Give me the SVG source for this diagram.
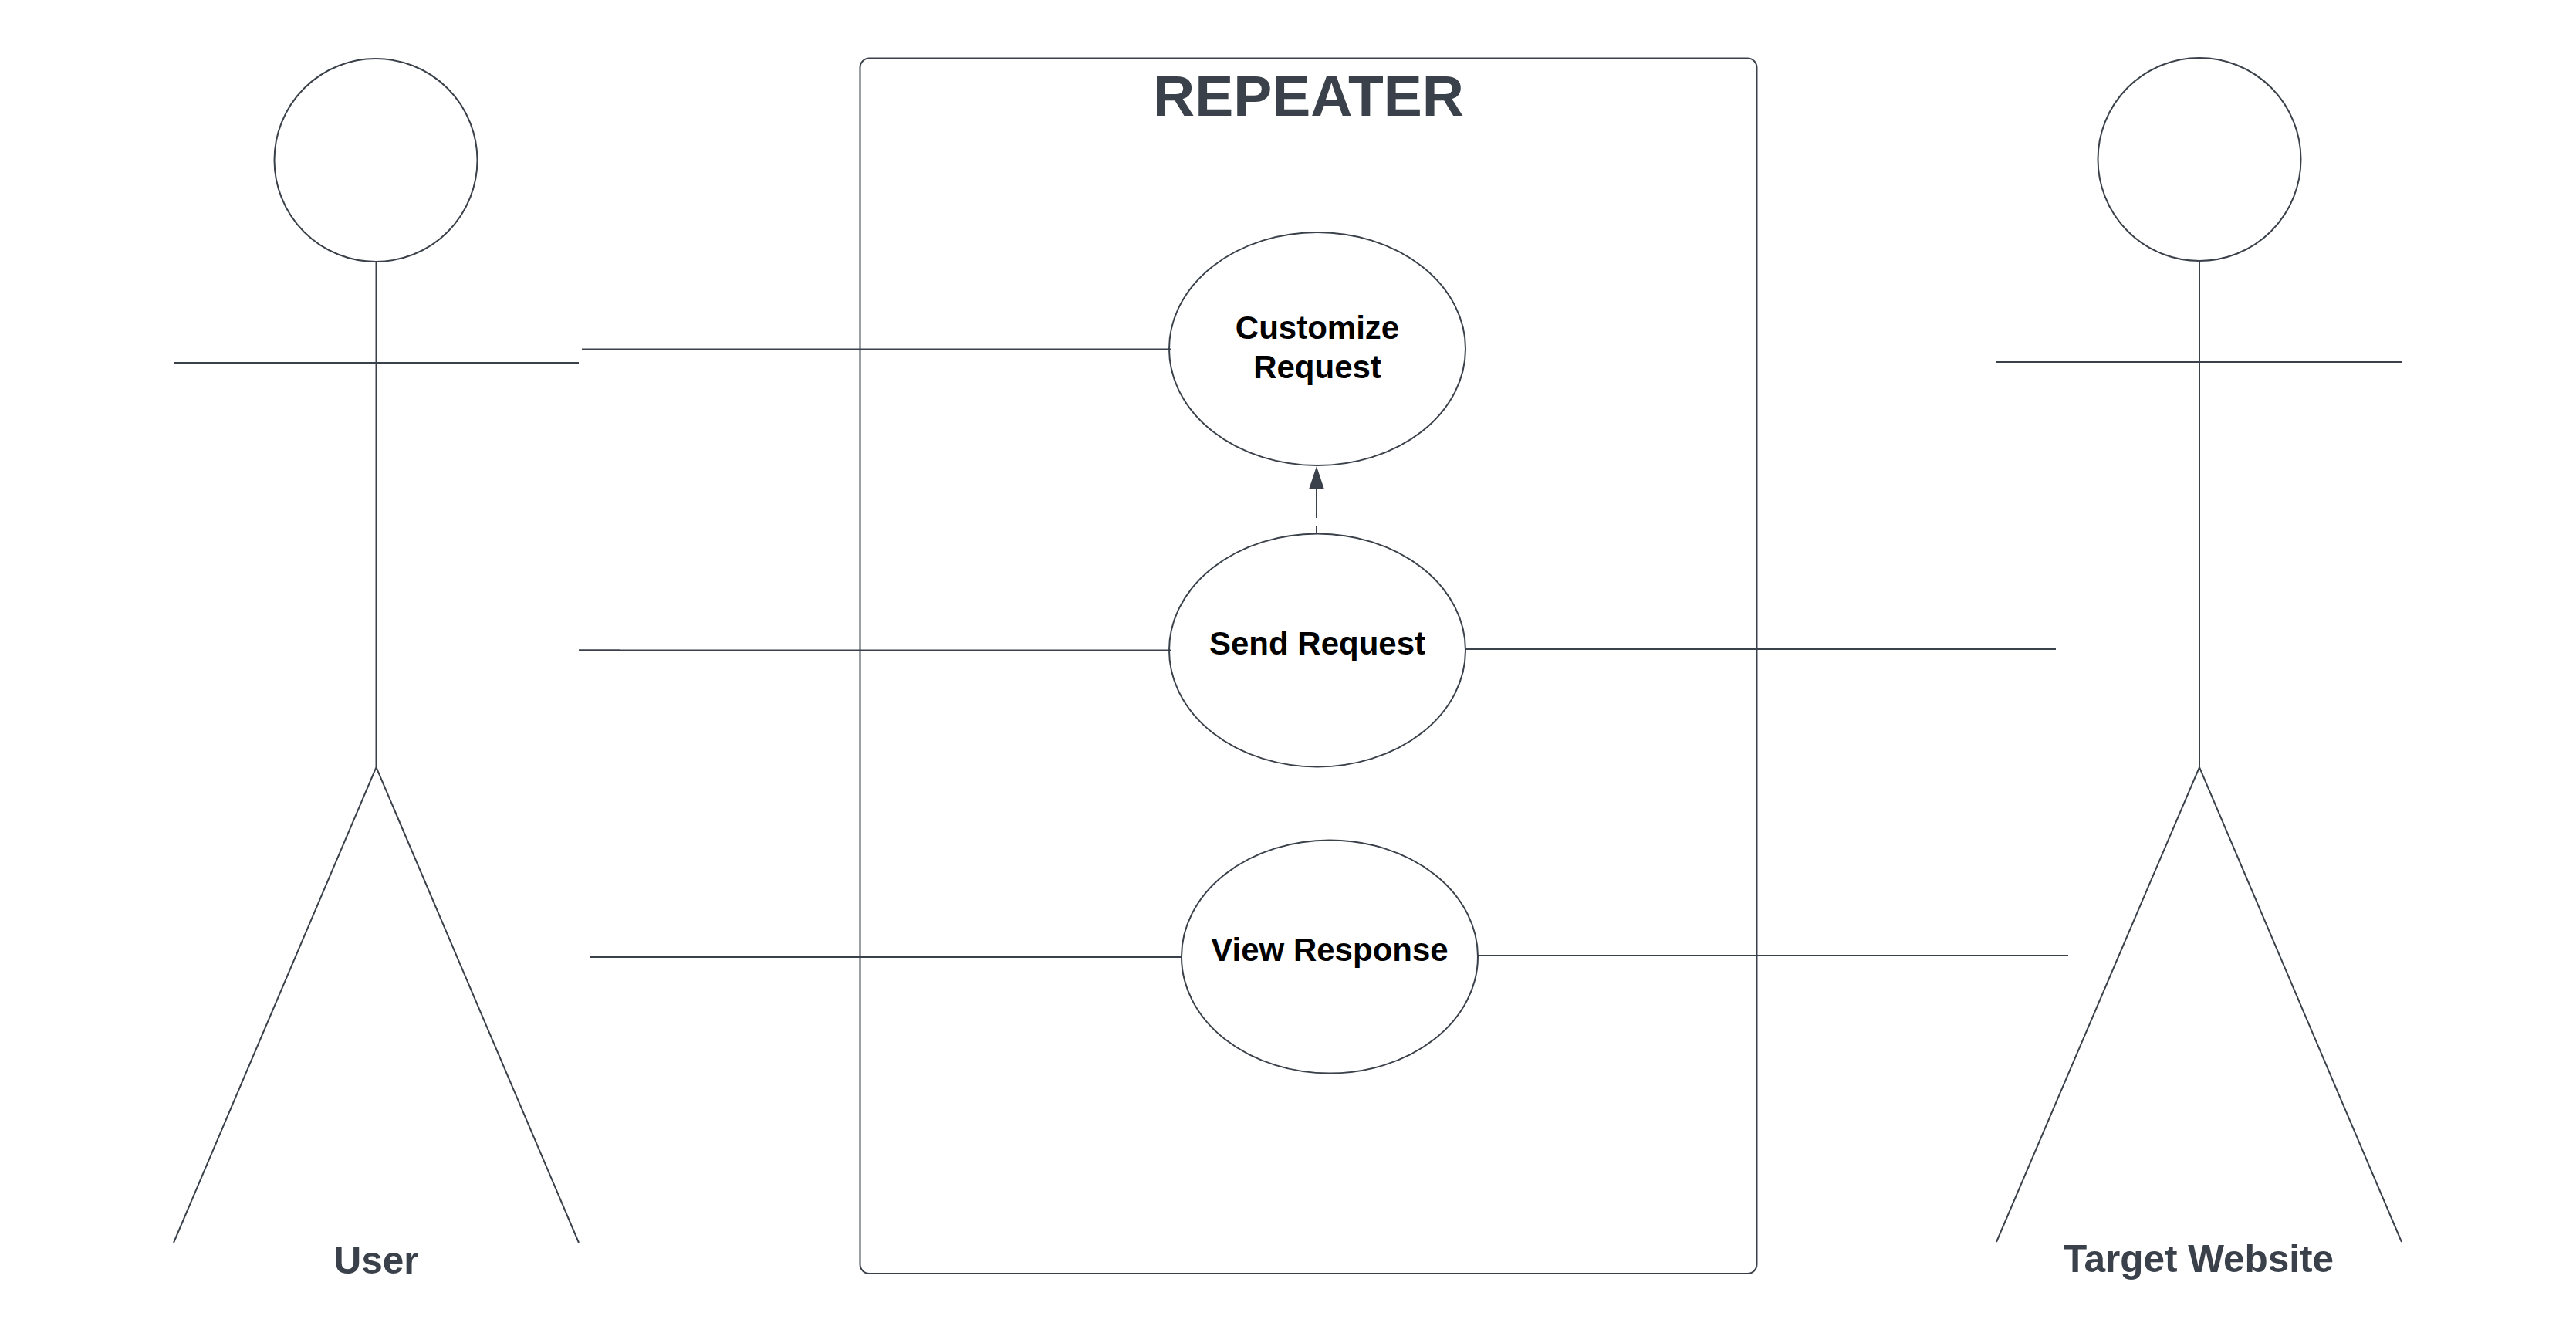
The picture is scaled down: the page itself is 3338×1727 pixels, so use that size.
<svg xmlns="http://www.w3.org/2000/svg" width="3338" height="1727" viewBox="0 0 3338 1727">
<defs>
<style>
.s{fill:none;stroke:#3a414a;stroke-width:2}
text{font-family:"Liberation Sans",Arial,sans-serif;font-weight:700;text-anchor:middle}
.d{fill:#3a414a;font-size:49.500px}
.u{fill:#000;font-size:42px}
</style>
<marker id="arrow" markerUnits="userSpaceOnUse" markerWidth="22" markerHeight="32" refX="11" refY="0" orient="0" overflow="visible"><path d="M11 0L21 30H1Z" fill="#3a414a"/></marker>
</defs>
<rect width="3338" height="1727" fill="#fff"/>
<g id="system"><rect class="s" x="1114.500" y="75.500" width="1162" height="1574.500" rx="12"/><text x="1695.500" y="150" fill="#3a414a" font-size="75">REPEATER</text></g>
<g id="connectors">
<line class="s" x1="754" y1="452.500" x2="1517" y2="452.500"/>
<line class="s" x1="750" y1="842.500" x2="1517" y2="842.500"/>
<line class="s" x1="750" y1="842.500" x2="803" y2="842.500"/>
<line class="s" x1="1899" y1="841" x2="2664" y2="841"/>
<line class="s" x1="765" y1="1240" x2="1531" y2="1240"/>
<line class="s" x1="1915" y1="1238" x2="2680" y2="1238"/>
<path d="M1706 604V634" fill="none" marker-start="url(#arrow)"/>
<line class="s" x1="1706" y1="633" x2="1706" y2="692" stroke-dasharray="38 10"/>
</g>
<g id="customize-request"><ellipse class="s" cx="1707" cy="452" rx="192" ry="151"/><text class="u" x="1707" y="438.500">Customize</text><text class="u" x="1707" y="489.500">Request</text></g>
<g id="send-request"><ellipse class="s" cx="1707" cy="842.500" rx="192" ry="151"/><text class="u" x="1707" y="848">Send Request</text></g>
<g id="view-response"><ellipse class="s" cx="1723" cy="1239.500" rx="192" ry="151"/><text class="u" x="1723" y="1245">View Response</text></g>
<g id="user"><circle class="s" cx="487" cy="207.500" r="131.500"/><path class="s" d="M487.500 339V994M225 470H750M225 1610L487.500 994L750 1610"/><text class="d" x="487.500" y="1650">User</text></g>
<g id="target-website"><circle class="s" cx="2850" cy="206.500" r="131.500"/><path class="s" d="M2850 338V994M2587 469H3112M2587 1609L2850 994L3112 1609"/><text class="d" x="2849" y="1648">Target Website</text></g>
</svg>
